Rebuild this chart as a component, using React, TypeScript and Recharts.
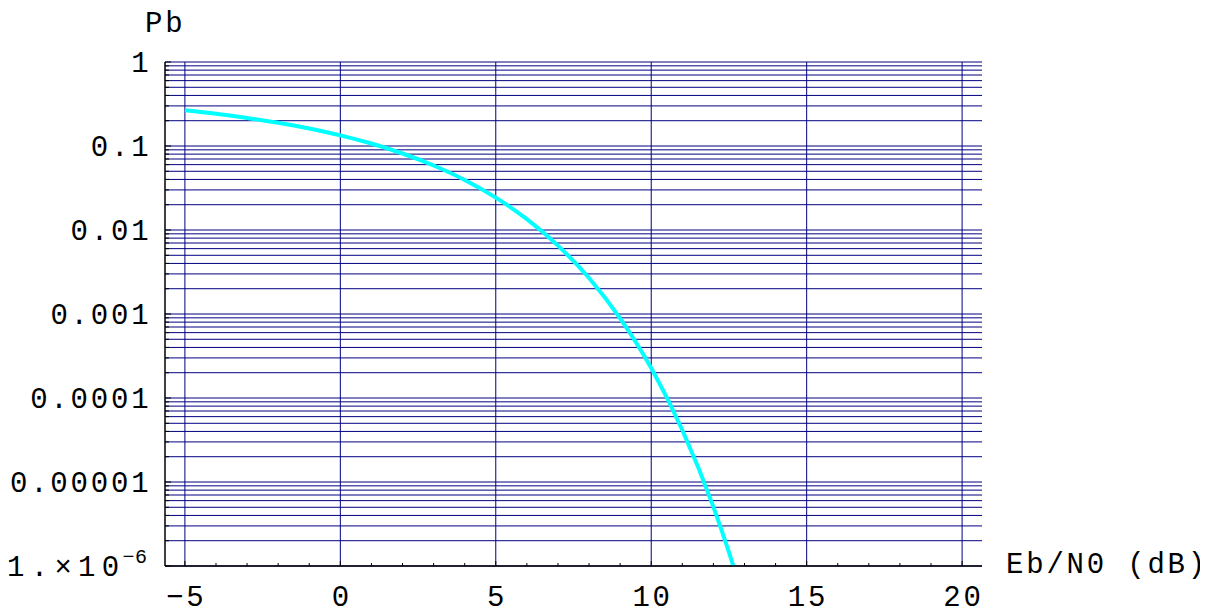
import React from 'react'
import { LineChart, Line, XAxis, YAxis, ReferenceLine, Label } from 'recharts'

// Eb/N0 in dB and bit error probability
const ebN0 = [-5, -4, -3, -2, -1, 0, 1, 2, 3, 4, 5, 6, 7, 8, 9, 10, 11, 12, 12.5, 13]
const pb = [
  0.266, 0.242, 0.216, 0.189, 0.1615, 0.134, 0.107, 0.0814, 0.0586, 0.0394, 0.0243, 0.01345, 0.00652, 0.00268,
  0.000887, 0.000227, 4.16e-5, 5.05e-6, 1.46e-6, 3.6e-7,
]

const xTicks = [-5, -4, -3, -2, -1, 0, 1, 2, 3, 4, 5, 6, 7, 8, 9, 10, 11, 12, 13, 14, 15, 16, 17, 18, 19, 20]
const xMajor = [-5, 0, 5, 10, 15, 20]
const xLabels = ['\u22125', '0', '5', '10', '15', '20']

const decades = [1e-6, 1e-5, 1e-4, 1e-3, 1e-2, 1e-1, 1]
const decadeLabels = ['1.\u00d710', '0.00001', '0.0001', '0.001', '0.01', '0.1', '1']
const mantissas = [1, 2, 3, 4, 5, 6, 7, 8, 9]

const data = ebN0.map((x, i) => ({ x, pb: pb[i] }))
const yTicks: number[] = []
decades.forEach((d, i) => {
  if (i === decades.length - 1) yTicks.push(d)
  else mantissas.forEach((m) => yTicks.push(m * d))
})

const FONT = "'Liberation Mono', 'Courier New', monospace"
const NAVY = '#000080'
const FS = 29
const LS = 2.8

const XTick = ({ x, y, payload }: any) => {
  const v = payload.value
  const k = xMajor.indexOf(v)
  return (
    <g>
      <line x1={x} y1={y} x2={x} y2={y - (k >= 0 ? 5 : 3)} stroke="#000" strokeWidth={1} />
      {k >= 0 && (
        <text x={x + LS / 2} y={y + 40} textAnchor="middle" fontFamily={FONT} fontSize={FS} letterSpacing={LS} fill="#000">
          {xLabels[k]}
        </text>
      )}
    </g>
  )
}

const YTick = ({ x, y, index }: any) => {
  const major = index % 9 === 0
  const lab = major ? decadeLabels[index / 9] : null
  return (
    <g>
      <line x1={x} y1={y} x2={x + (major ? 6 : 4)} y2={y} stroke="#000" strokeWidth={1} />
      {lab && index === 0 && (
        <text x={x - 158} y={y + 10} fontFamily={FONT} fontSize={FS} letterSpacing={6.3} fill="#000">
          {lab}
          <tspan fontSize={20} letterSpacing={0.5} dx={-3} dy={-13}>
            {'\u22126'}
          </tspan>
        </text>
      )}
      {lab && index !== 0 && (
        <text x={x - 13.6} y={y + 10} textAnchor="end" fontFamily={FONT} fontSize={FS} letterSpacing={LS} fill="#000">
          {lab}
        </text>
      )}
    </g>
  )
}

export default function App() {
  return (
    <LineChart width={1200} height={603} data={data} margin={{ top: 54, right: 226, bottom: 0, left: 0 }}>
      {yTicks.map((v) => (
        <ReferenceLine key={'h' + v} y={v} stroke={NAVY} strokeWidth={1} />
      ))}
      {xMajor.map((v) => (
        <ReferenceLine key={'v' + v} x={v} stroke={NAVY} strokeWidth={1} />
      ))}
      <XAxis
        dataKey="x"
        type="number"
        domain={[-5.64, 20.64]}
        ticks={xTicks}
        interval={0}
        tickSize={0}
        tickMargin={0}
        height={45}
        allowDataOverflow
        axisLine={{ stroke: '#000', strokeWidth: 1.5 }}
        tick={<XTick />}
      >
        <Label
          content={({ viewBox }: any) => (
            <text x={viewBox.x + viewBox.width + 24} y={viewBox.y + 7} fontFamily={FONT} fontSize={FS} letterSpacing={LS} fill="#000">
              Eb/N0 (dB)
            </text>
          )}
        />
      </XAxis>
      <YAxis
        type="number"
        scale="log"
        domain={[1e-6, 1]}
        ticks={yTicks}
        interval={0}
        tickSize={0}
        tickMargin={0}
        width={157}
        allowDataOverflow
        axisLine={{ stroke: '#000', strokeWidth: 1.5 }}
        tick={<YTick />}
      >
        <Label
          content={({ viewBox }: any) => (
            <text x={viewBox.x + viewBox.width - 20} y={viewBox.y - 30} fontFamily={FONT} fontSize={FS} letterSpacing={LS} fill="#000">
              Pb
            </text>
          )}
        />
      </YAxis>
      <Line
        type="monotone"
        dataKey="pb"
        stroke="#00ffff"
        strokeWidth={4}
        dot={false}
        isAnimationActive={false}
      />
    </LineChart>
  )
}
